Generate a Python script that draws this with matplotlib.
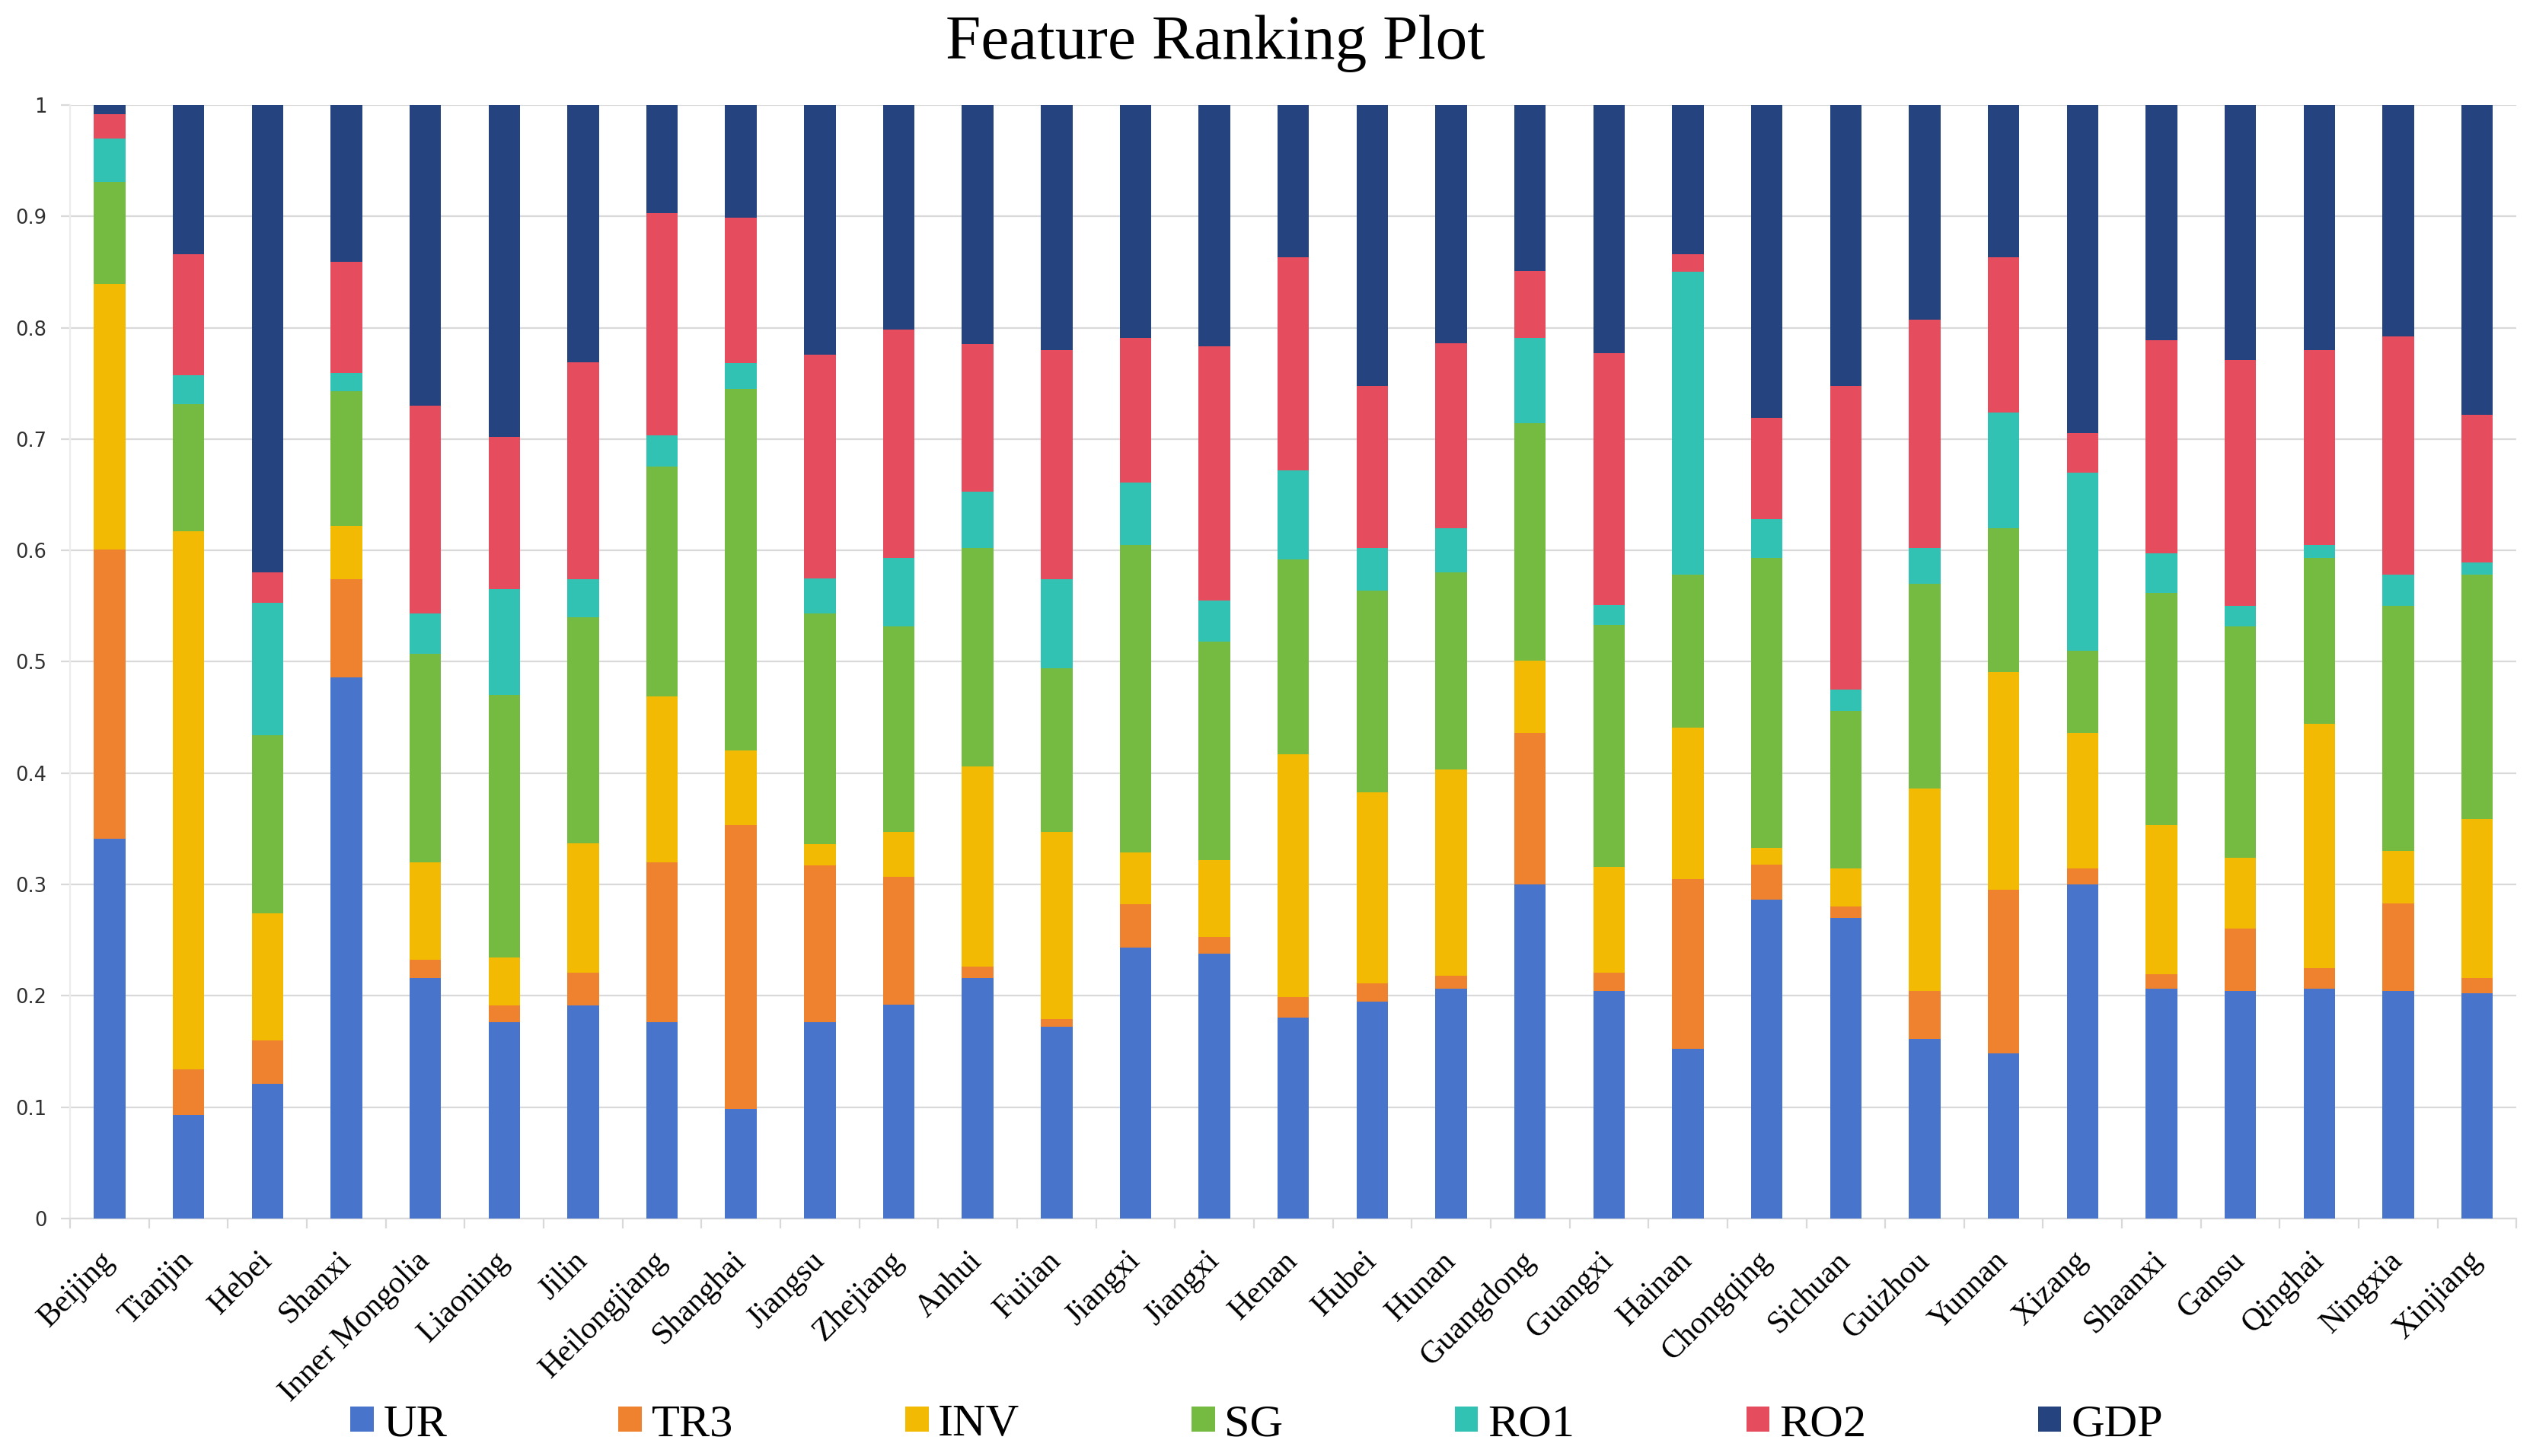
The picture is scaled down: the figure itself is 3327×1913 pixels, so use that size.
import numpy as np
import matplotlib.pyplot as plt

provinces = ["Beijing", "Tianjin", "Hebei", "Shanxi", "Inner Mongolia", "Liaoning", "Jilin",
             "Heilongjiang", "Shanghai", "Jiangsu", "Zhejiang", "Anhui", "Fuiian", "Jiangxi",
             "Jiangxi", "Henan", "Hubei", "Hunan", "Guangdong", "Guangxi", "Hainan", "Chongqing",
             "Sichuan", "Guizhou", "Yunnan", "Xizang", "Shaanxi", "Gansu", "Qinghai", "Ningxia",
             "Xinjiang"]

# share of each feature per province (bottom to top)
UR = [.341, .093, .121, .486, .216, .176, .191, .176, .098, .176, .192, .216, .172, .243, .238, .180,
      .195, .206, .300, .204, .152, .286, .270, .161, .148, .300, .206, .204, .206, .204, .202]
TR3 = [.260, .041, .039, .088, .016, .015, .030, .144, .255, .141, .115, .010, .007, .039, .015, .019,
       .016, .012, .136, .017, .153, .032, .010, .043, .147, .014, .013, .056, .019, .079, .014]
INV = [.238, .483, .114, .048, .088, .043, .116, .149, .067, .019, .040, .180, .168, .047, .069, .218,
       .172, .185, .065, .095, .136, .015, .034, .182, .196, .122, .134, .064, .219, .047, .143]
SG = [.092, .114, .160, .121, .187, .236, .203, .206, .325, .207, .185, .196, .147, .276, .196, .175,
      .181, .177, .213, .217, .137, .260, .142, .184, .129, .074, .209, .208, .149, .220, .219]
RO1 = [.039, .026, .119, .016, .036, .095, .034, .028, .023, .032, .061, .051, .080, .056, .037, .080,
       .038, .040, .077, .018, .272, .035, .019, .032, .104, .160, .035, .018, .012, .028, .011]
RO2 = [.022, .109, .027, .100, .187, .137, .195, .200, .131, .201, .205, .132, .206, .130, .228, .191,
       .146, .166, .060, .226, .016, .091, .273, .205, .139, .035, .192, .221, .175, .214, .133]
GDP = [.008, .134, .420, .141, .270, .298, .231, .097, .101, .224, .202, .215, .220, .209, .217, .137,
       .252, .214, .149, .223, .134, .281, .252, .193, .137, .295, .211, .229, .220, .208, .278]

yticks = [0, 0.1, 0.2, 0.3, 0.4, 0.5, 0.6, 0.7, 0.8, 0.9, 1]
ytick_labels = ["0", "0.1", "0.2", "0.3", "0.4", "0.5", "0.6", "0.7", "0.8", "0.9", "1"]

series = {"UR": UR, "TR3": TR3, "INV": INV, "SG": SG, "RO1": RO1, "RO2": RO2, "GDP": GDP}
colors = {"UR": "#4874CB", "TR3": "#EE822F", "INV": "#F2BA02", "SG": "#75BB41",
          "RO1": "#31C2B4", "RO2": "#E54C5E", "GDP": "#25447F"}
grid_color = "#D9D9D9"

fig = plt.figure(figsize=(33.27, 19.13), dpi=100)
ax = fig.add_axes([0.0277, 0.1632, 0.9658, 0.7647])

x = np.arange(len(provinces))
bottom = np.zeros(len(provinces))
for name, vals in series.items():
    ax.bar(x, vals, 0.4, bottom=bottom, color=colors[name], label=name, zorder=3)
    bottom += np.array(vals)

ax.set_xlim(-0.5, len(provinces) - 0.5)
ax.set_ylim(0, 1)

ax.set_yticks(yticks)
ax.set_yticklabels(ytick_labels, fontsize=18.5, color="#303030", family="DejaVu Sans")
ax.tick_params(axis="y", length=9, width=1.6, color=grid_color, pad=13)
ax.grid(axis="y", color=grid_color, linewidth=1.6, zorder=0)

ax.set_xticks(x)
ax.set_xticklabels(provinces, rotation=45, ha="right", va="center", rotation_mode="anchor",
                   fontsize=30, family="Liberation Serif")
ax.set_xticks(np.arange(len(provinces) + 1) - 0.5, minor=True)
ax.tick_params(axis="x", which="major", length=0, pad=36)
ax.tick_params(axis="x", which="minor", length=9, width=1.6, color=grid_color)

for side in ["top", "right"]:
    ax.spines[side].set_visible(False)
ax.spines["left"].set_color("#ECECEC")
ax.spines["left"].set_linewidth(1.6)
ax.spines["bottom"].set_color(grid_color)
ax.spines["bottom"].set_linewidth(1.6)

fig.text(0.4797, 0.9597, "Feature Ranking Plot", ha="center", va="baseline",
         fontsize=60, family="Liberation Serif")

fig.legend(loc="center", bbox_to_anchor=(0.496, 0.0214), ncol=7, frameon=False,
           prop={"family": "Liberation Serif", "size": 43.5}, handlelength=0.51,
           handleheight=0.46, handletextpad=0.21, columnspacing=3.73, borderpad=0)

plt.savefig("out.png", dpi=100)
